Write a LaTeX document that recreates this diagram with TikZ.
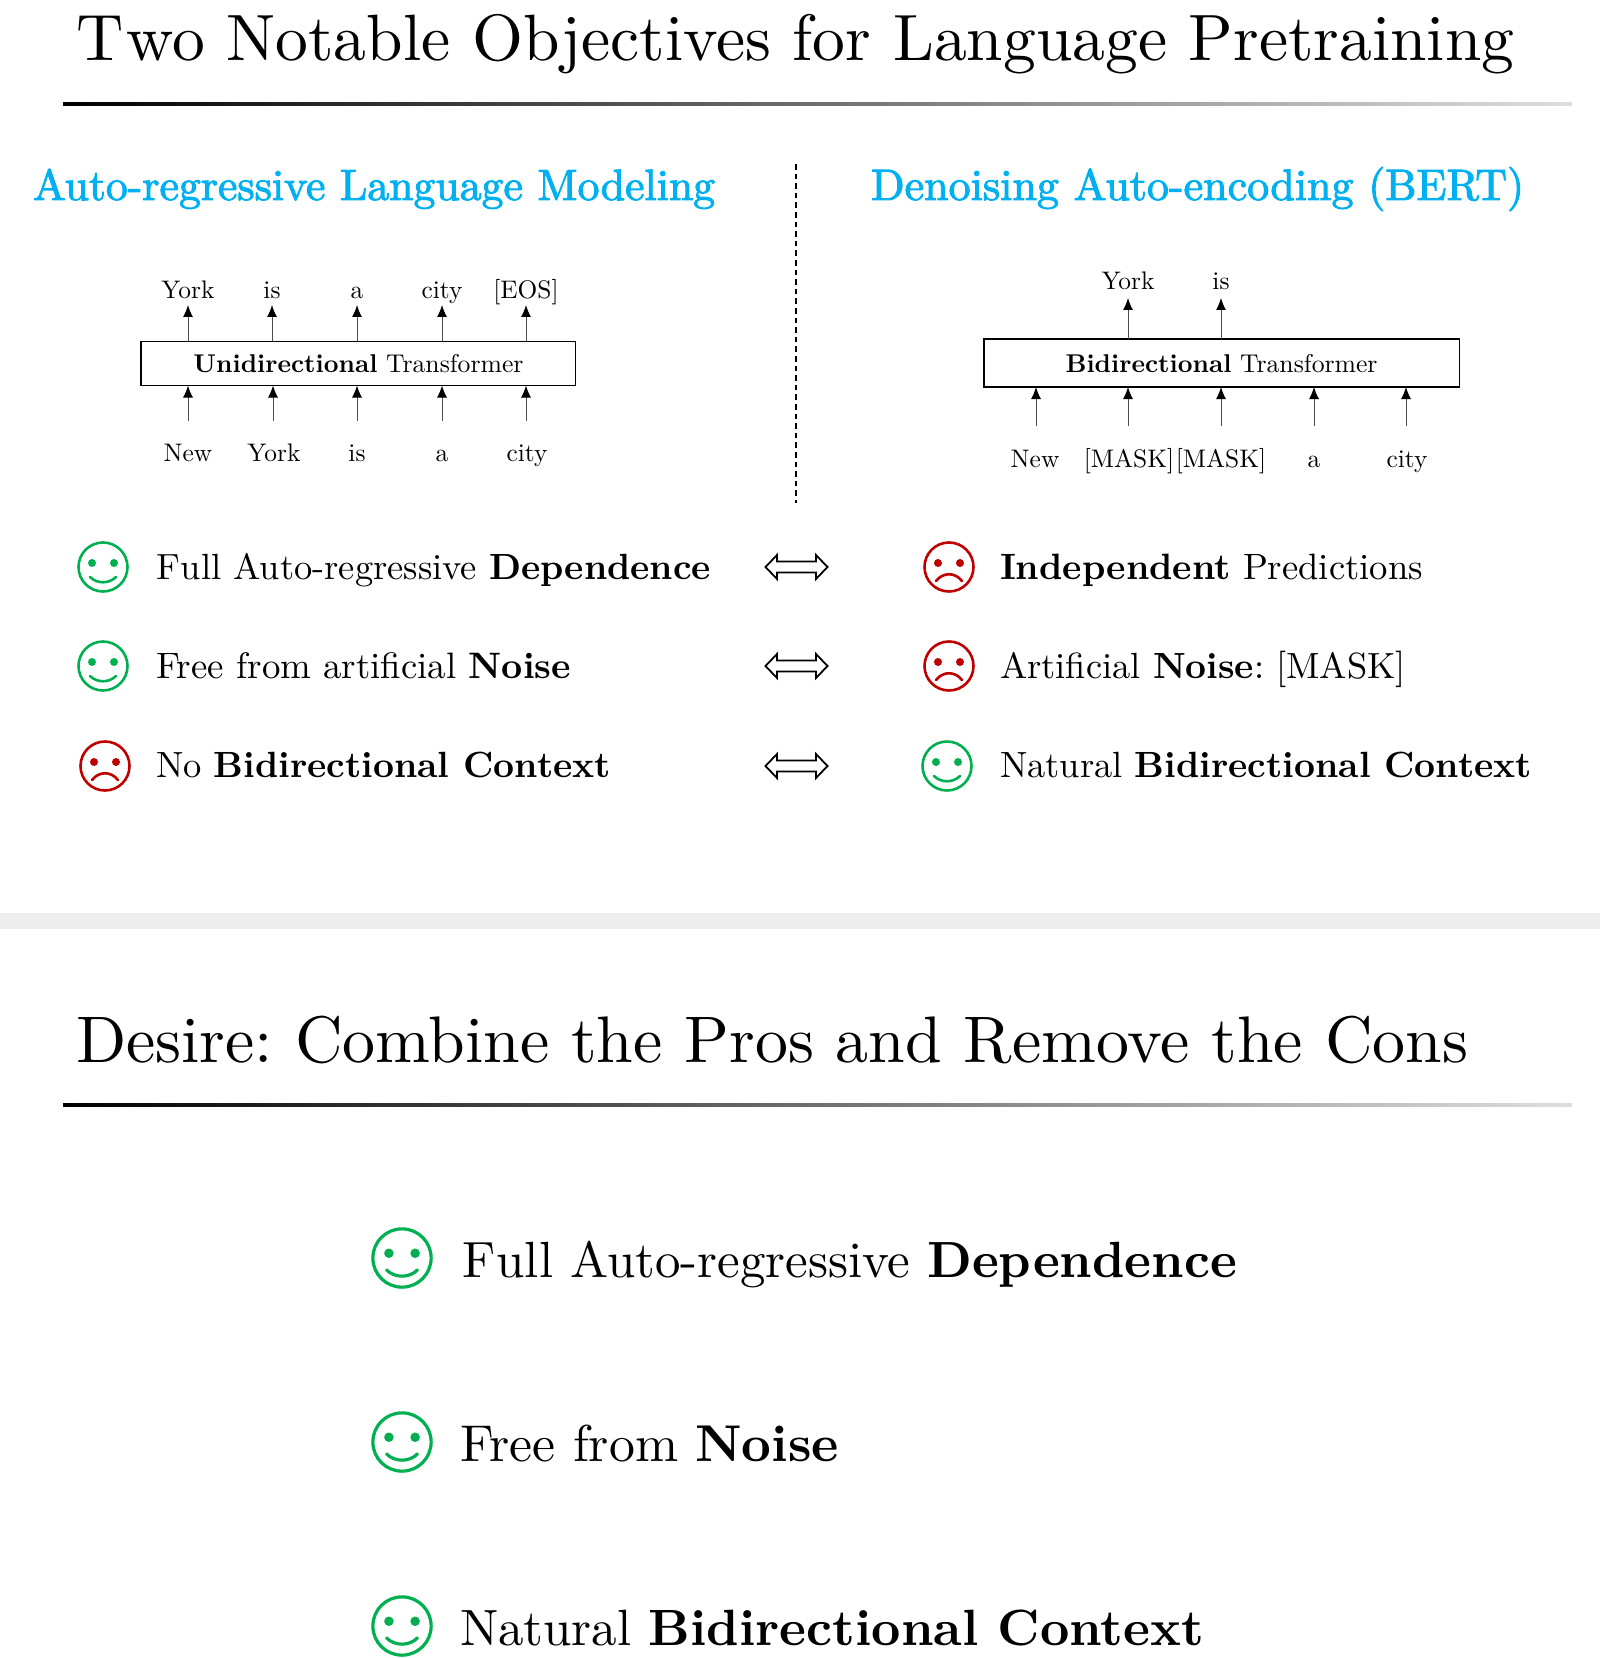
\documentclass[tikz,border=0pt]{standalone}
\usepackage{graphicx}
\usepackage{fontspec}
\newfontfamily\headfont[FakeBold=2.2]{Latin Modern Roman}
\usetikzlibrary{arrows.meta}
\definecolor{goodc}{HTML}{00B050}
\definecolor{badc}{HTML}{C00000}
\definecolor{headc}{HTML}{00B0F0}
\newcommand{\fitw}[2]{\resizebox{\dimexpr #1pt/2\relax}{!}{\frenchspacing #2}}
\newcommand{\lab}[1]{\scalebox{1.27}{#1}}
\tikzset{
  x=0.5pt,y=-0.5pt,
  txt/.style={anchor=base west,inner sep=0pt,outer sep=0pt},
  word/.style={anchor=base,inner sep=0pt,outer sep=0pt},
  tbox/.style={draw=black,line width=0.8pt,inner sep=0pt,outer sep=0pt,anchor=center},
  arr/.style={line width=0.5pt,draw=black!70,-{Latex[length=6pt,width=5pt,black]}},
  gradrule/.style={left color=black,right color=black!13,draw=none},
  pics/smile/.style n args={2}{code={
    \draw[#1,line width=#2] (0,0) circle[radius=24.5];
    \fill[#1] (-11,-4) circle[radius=4] (11,-4) circle[radius=4];
    \draw[#1,line width=#2,line cap=round] (-13,10) .. controls (-6,17) and (6,17) .. (13,10);
  }},
  pics/frown/.style n args={2}{code={
    \draw[#1,line width=#2] (0,0) circle[radius=24.5];
    \fill[#1] (-11,-4) circle[radius=4] (11,-4) circle[radius=4];
    \draw[#1,line width=#2,line cap=round] (-13,14) .. controls (-6,5) and (6,5) .. (13,14);
  }},
  pics/dblarrow/.style={code={
    \draw[black,line width=0.9pt,miter limit=10] (-31,0) -- (-19.5,-12) -- (-19.5,-5.5) -- (19.5,-5.5) -- (19.5,-12) -- (31,0)
      -- (19.5,12) -- (19.5,5.5) -- (-19.5,5.5) -- (-19.5,12) -- cycle;
  }},
}
\begin{document}
\begin{tikzpicture}
\useasboundingbox (0,0) rectangle (1600,1658);
% titles and rules
\node[txt] (title1) at (76,61) {\fitw{1438}{T\kern0.05em wo Notable Objectives for Language Pretraining}};
\fill[gradrule] (63,102.4) rectangle (1572,105.6);
\node[txt] (head1) at (33,200) {\fitw{682}{\color{headc}\headfont Auto-regressive Language Modeling}};
\node[txt] (head2) at (871,200) {\fitw{653}{\color{headc}\headfont Denoising Auto-encoding (BERT)}};
\coordinate (dtop) at (796,164);
\coordinate (dbot) at (796,503);
\draw[black,line width=0.6pt,dash pattern=on 2.8pt off 2pt] (dtop) -- (dbot);

% left transformer
\node[tbox,minimum width=217.3pt,minimum height=22pt] (lbox) at (358,363.5) {};
\node[word] (lboxt) at (358.5,372) {\fitw{330}{\textbf{Unidirectional} Transformer}};
\foreach \n/\x/\t in {1/188/York,2/272/is,3/357/a,4/442/city,5/526/[EOS]}{
  \node[word] (lo\n) at (\x,299) {\lab{\t}};
  \coordinate (lt\n) at (\x,305);
  \draw[arr] (lbox.north -| lt\n) -- (lt\n);
}
\foreach \n/\x/\tx/\t in {1/188/188/New,2/273/274/York,3/357/357/is,4/442/442/a,5/526/527/city}{
  \node[word] (li\n) at (\tx,461) {\lab{\t}};
  \coordinate (ls\n) at (\x,421);
  \draw[arr] (ls\n) -- (lbox.south -| ls\n);
}

% right transformer
\node[tbox,minimum width=237.8pt,minimum height=24pt] (rbox) at (1221.5,363) {};
\node[word] (rboxt) at (1221.5,372) {\fitw{312}{\textbf{Bidirectional} Transformer}};
\foreach \n/\x/\t in {1/1128/York,2/1221/is}{
  \node[word] (ro\n) at (\x,290) {\lab{\t}};
  \coordinate (rt\n) at (\x,298);
  \draw[arr] (rbox.north -| rt\n) -- (rt\n);
}
\foreach \n/\x/\tx/\t in {1/1036/1035/New,2/1128/1129/{[MASK]},3/1221/1221/{[MASK]},4/1314/1314/a,5/1406/1407/city}{
  \node[word] (ri\n) at (\tx,467) {\lab{\t}};
  \coordinate (rs\n) at (\x,426);
  \draw[arr] (rs\n) -- (rbox.south -| rs\n);
}

% comparison rows
\pic at (103,567) {smile={goodc}{1.3pt}};
\pic at (103,666) {smile={goodc}{1.3pt}};
\pic at (105,766) {frown={badc}{1.3pt}};
\pic at (949,567) {frown={badc}{1.3pt}};
\pic at (949,666) {frown={badc}{1.3pt}};
\pic at (947,766) {smile={goodc}{1.3pt}};
\pic at (796.5,567) {dblarrow};
\pic at (796.5,666) {dblarrow};
\pic at (796.5,766) {dblarrow};
\node[txt] (a1) at (156,579) {\fitw{555}{F\kern0.03em ull Auto-regressive \textbf{Dependence}}};
\node[txt] (a2) at (156,678) {\fitw{415}{Free from artificial \textbf{Noise}}};
\node[txt] (a3) at (156,777) {\fitw{455}{No \textbf{Bidirectional Context}}};
\node[txt] (b1) at (1000,579) {\fitw{423}{\textbf{Independent} Predictions}};
\node[txt] (b2) at (1000,678) {\fitw{406}{Artificial \textbf{Noise}: [MASK]}};
\node[txt] (b3) at (1000,777) {\fitw{532}{Natural \textbf{Bidirectional Context}}};

% band
\fill[black!7] (0,913) rectangle (1600,929);

% lower part
\node[txt] (title2) at (76,1062) {\fitw{1392}{Desire: Combine the Pros and Remove the Cons}};
\fill[gradrule] (63,1103.4) rectangle (1572,1106.6);
\pic[scale=1.19] at (402,1258) {smile={goodc}{1.6pt}};
\pic[scale=1.19] at (402,1442) {smile={goodc}{1.6pt}};
\pic[scale=1.19] at (402,1626) {smile={goodc}{1.6pt}};
\node[txt] (c1) at (462,1277) {\fitw{775}{F\kern0.03em ull Auto-regressive \textbf{Dependence}}};
\node[txt] (c2) at (460,1461) {\fitw{379}{Free from \textbf{Noise}}};
\node[txt] (c3) at (460,1645) {\fitw{744}{Natural \textbf{Bidirectional Context}}};
\end{tikzpicture}
\end{document}
